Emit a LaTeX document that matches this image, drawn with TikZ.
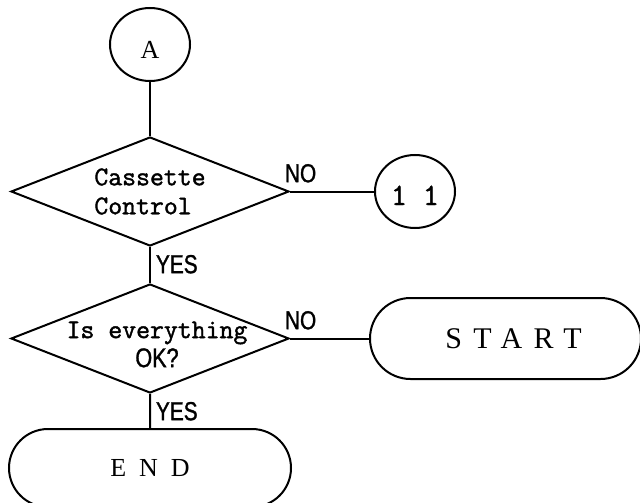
\documentclass[tikz,border=0pt]{standalone}
\usepackage{fontspec}
\setmainfont{Liberation Serif}
\newfontfamily\answerfont[FakeStretch=0.8, FakeBold=1.2]{Liberation Sans}
\newfontfamily\questionfont[FakeBold=1.5]{Latin Modern Mono}
\usetikzlibrary{shapes.geometric, shapes.misc, positioning}

\begin{document}
\begin{tikzpicture}[x=1pt, y=1pt, line width=2pt,
        connector/.style={ellipse, draw, minimum width=80pt, minimum height=73pt, inner sep=0pt},
        decision/.style={diamond, draw, minimum width=278pt, minimum height=109pt, inner sep=0pt},
        terminal/.style={rounded rectangle, draw, minimum height=81pt, inner sep=0pt},
        question/.style={font=\questionfont\fontsize{27}{29}\selectfont, align=center},
        answer/.style={font=\answerfont\fontsize{26}{26}\selectfont, inner sep=0pt},
        nolabel/.style={answer, above right, pos=0, xshift=-6pt, yshift=8pt},
        yeslabel/.style={answer, below right, pos=0, xshift=5pt, yshift=-7pt}]

        \useasboundingbox (0,0) rectangle (640,-503);

        % Columna principal
        \node[connector, text height=29pt, font=\fontsize{26}{26}\selectfont] (a) at (150,-44.5) {A};
        \node[decision, below=54pt of a, label={[question, align=left]center:{Cassette\\Control}}] (cassette) {};
        \node[decision, below=36pt of cassette, label={[question, xshift=7pt, yshift=-6pt]center:{Is everything\\{\answerfont\fontsize{27}{29}\selectfont OK?}}}] (check) {};
        \node[terminal, below=34pt of check, minimum width=282pt, minimum height=78pt,
            font=\fontsize{26}{26}\selectfont\addfontfeature{LetterSpace=50}] (finish) {END};

        % Columna derecha
        \node[connector, right=84pt of cassette, text height=27pt, font=\questionfont\fontsize{31}{31}\selectfont] (eleven) {1 1};
        \node[terminal, right=79pt of check, minimum width=271pt,
            font=\fontsize{30}{30}\selectfont\addfontfeature{LetterSpace=38}] (restart) {\kern16pt START};

        % Flechas
        \draw (a) -- (cassette);
        \draw (cassette) -- node[nolabel] {NO} (eleven);
        \draw (cassette) -- node[yeslabel] {YES} (check);
        \draw (check) -- node[nolabel] {NO} (restart);
        \draw (check) -- node[yeslabel] {YES} (finish);

    \end{tikzpicture}
\end{document}
